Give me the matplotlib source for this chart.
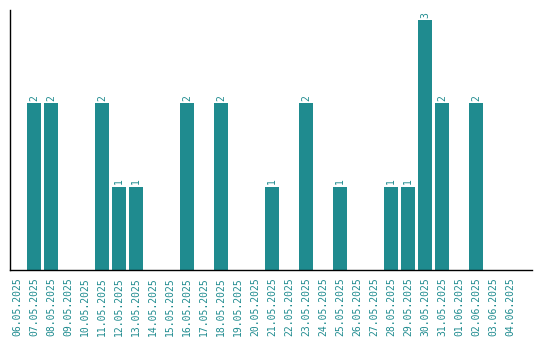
import matplotlib
matplotlib.use("Agg")
import matplotlib.pyplot as plt

dates = ["06.05.2025", "07.05.2025", "08.05.2025", "09.05.2025", "10.05.2025",
         "11.05.2025", "12.05.2025", "13.05.2025", "14.05.2025", "15.05.2025",
         "16.05.2025", "17.05.2025", "18.05.2025", "19.05.2025", "20.05.2025",
         "21.05.2025", "22.05.2025", "23.05.2025", "24.05.2025", "25.05.2025",
         "26.05.2025", "27.05.2025", "28.05.2025", "29.05.2025", "30.05.2025",
         "31.05.2025", "01.06.2025", "02.06.2025", "03.06.2025", "04.06.2025"]
counts = [0, 2, 2, 0, 0, 2, 1, 1, 0, 0, 2, 0, 2, 0, 0,
          1, 0, 2, 0, 1, 0, 0, 1, 1, 3, 2, 0, 2, 0, 0]

teal = "#1f8b8f"

fig = plt.figure(figsize=(5.4, 3.4), dpi=100)
ax = fig.add_axes([10 / 540, 70 / 340, 522 / 540, 260 / 340])

x = range(len(dates))
ax.bar(x, counts, width=0.82, color=teal)
for i, v in enumerate(counts):
    if v > 0:
        ax.text(i, v + 0.03, str(v), rotation=90, ha="center", va="bottom",
                color=teal, fontsize=7, family="DejaVu Sans Mono")

ax.set_xlim(-0.41, 30.3)
ax.set_ylim(0, 3.12)
ax.set_xticks(list(x))
ax.set_xticklabels(dates, rotation=90, color=teal, fontsize=7, family="DejaVu Sans Mono")
ax.tick_params(axis="x", length=0, pad=5)
ax.set_yticks([])
ax.spines["top"].set_visible(False)
ax.spines["right"].set_visible(False)
ax.spines["left"].set_linewidth(1.0)
ax.spines["bottom"].set_linewidth(1.0)

fig.savefig("out.png", dpi=100)
